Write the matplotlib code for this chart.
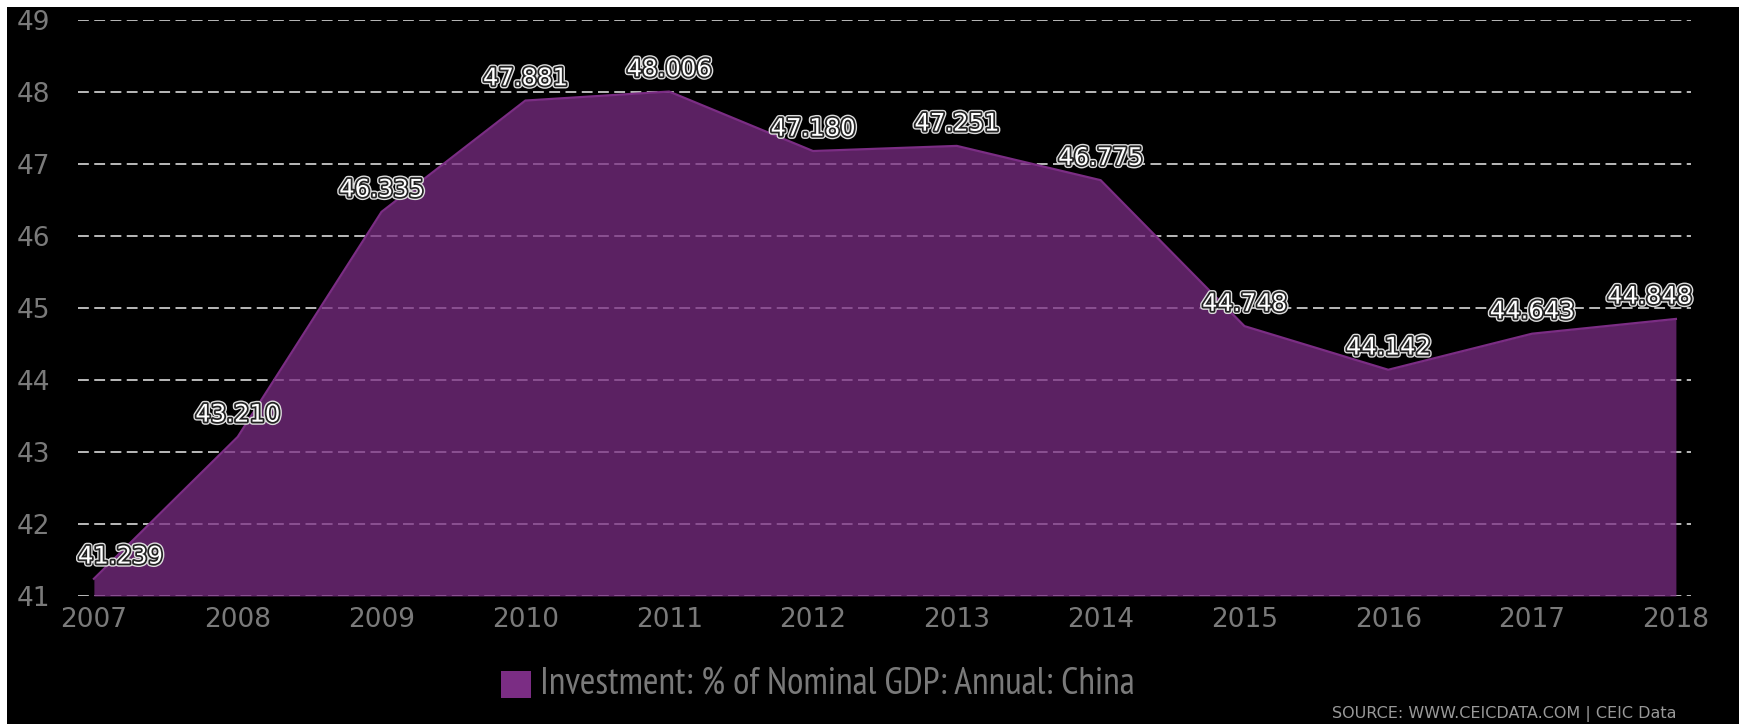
import matplotlib.pyplot as plt
import matplotlib.patheffects as pe
from matplotlib.patches import Rectangle

years = [2007, 2008, 2009, 2010, 2011, 2012, 2013, 2014, 2015, 2016, 2017, 2018]
values = [41.239, 43.210, 46.335, 47.881, 48.006, 47.180, 47.251, 46.775,
          44.748, 44.142, 44.643, 44.848]
yticks = [41, 42, 43, 44, 45, 46, 47, 48, 49]
series_name = "Investment: % of Nominal GDP: Annual: China"
source = "SOURCE: WWW.CEICDATA.COM | CEIC Data"

purple = "#7b2d84"

fig = plt.figure(figsize=(17.39, 7.24), dpi=100, facecolor="black")
# white strip along the top and left edges
fig.patches.append(Rectangle((0, 0), 7 / 1739, 1, transform=fig.transFigure,
                             facecolor="white", edgecolor="none"))
fig.patches.append(Rectangle((0, 1 - 7 / 724), 1, 7 / 724, transform=fig.transFigure,
                             facecolor="white", edgecolor="none"))

ax = fig.add_axes([0.0449, 0.1768, 0.9275, 0.7956])
ax.set_facecolor("black")

ax.fill_between(years, yticks[0], values, color=purple, alpha=0.75,
                linewidth=0, zorder=2)
ax.plot(years, values, color=purple, lw=1.6, zorder=3)

ax.set_ylim(yticks[0], yticks[-1])
ax.set_xlim(2006.89, 2018.105)
ax.set_yticks(yticks)
ax.set_xticks(years)
ax.grid(axis="y", color="#c8c8c8", lw=1.3, linestyle=(0, (6, 3)), zorder=0)
ax.set_axisbelow(True)
for s in ax.spines.values():
    s.set_visible(False)
ax.tick_params(length=0, colors="#7a7a7a", labelsize=19)
ax.tick_params(axis="y", pad=20)
ax.tick_params(axis="x", pad=8)

halo = [pe.withStroke(linewidth=4.5, foreground="#dddddd"),
        pe.withStroke(linewidth=2.5, foreground="#222222")]
n = len(years)
for i, (x, v) in enumerate(zip(years, values)):
    if i == 0:
        ha, dx = "left", -11.5
    elif i == n - 1:
        ha, dx = "right", 11.5
    else:
        ha, dx = "center", 0
    ax.annotate(f"{v:.3f}", (x, v), xytext=(dx, 16), textcoords="offset points",
                ha=ha, va="center", color="white", fontsize=17.5,
                path_effects=halo, zorder=5)

fig.patches.append(Rectangle((501 / 1739, 1 - 698 / 724), 30 / 1739, 27 / 724,
                             transform=fig.transFigure, facecolor=purple,
                             edgecolor="none"))
fig.text(540 / 1739, 1 - 685 / 724, series_name, color="#7a7a7a", fontsize=27,
         family=["PT Sans Narrow", "DejaVu Sans"], ha="left", va="center")
fig.text(1677 / 1739, 1 - 714 / 724, source, color="#999999", fontsize=11.5,
         ha="right", va="center")

fig.savefig("out.png", dpi=100, facecolor=fig.get_facecolor())
